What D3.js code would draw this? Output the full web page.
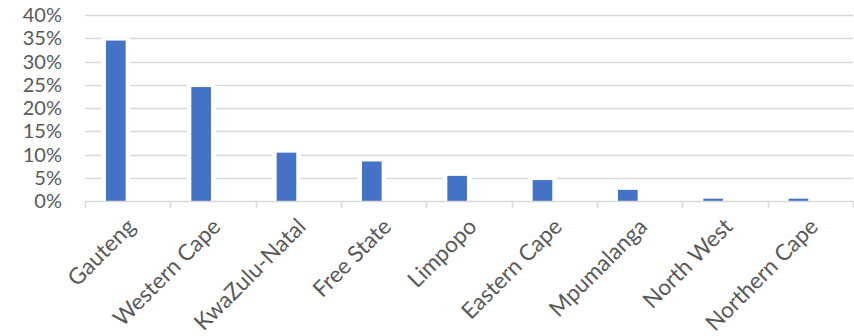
<!DOCTYPE html>
<html><head><meta charset="utf-8">
<script src="https://cdn.jsdelivr.net/npm/d3@7"></script>
<style>body{margin:0;background:#fff}svg{display:block}text{font-family:Lato,"Open Sans",sans-serif;fill:#595959}</style>
</head><body>
<svg id="c" width="854" height="336"></svg>
<script>
const categories = ["Gauteng","Western Cape","KwaZulu-Natal","Free State","Limpopo","Eastern Cape","Mpumalanga","North West","Northern Cape"];
const values = [0.345, 0.245, 0.104, 0.085, 0.054, 0.045, 0.024, 0.005, 0.005];
const yTicks = [0,0.05,0.10,0.15,0.20,0.25,0.30,0.35,0.40];

const svg = d3.select("#c");
const x = d3.scaleBand().domain(categories).range([85, 853]).padding(0);
const y = d3.scaleLinear().domain([0, 0.4]).range([201, 15]);
const bw = x.bandwidth();
const barOff = bw*0.246, barW = bw*0.23;

// gridlines
svg.append("g").selectAll("line").data(yTicks.filter(d=>d>0)).join("line")
  .attr("x1",85).attr("x2",853).attr("y1",d=>Math.round(y(d))+0.5).attr("y2",d=>Math.round(y(d))+0.5)
  .attr("stroke","#D9D9D9").attr("stroke-width",1.5);

// white halo behind bars (cuts gridlines like the reference)
svg.append("g").selectAll("rect").data(values).join("rect")
  .attr("x",(d,i)=>x(categories[i])+barOff-4.5).attr("width",barW+9)
  .attr("y",d=>y(d)-3).attr("height",d=>y(0)-y(d)+3).attr("fill","#fff");

// bars
svg.append("g").selectAll("rect").data(values).join("rect")
  .attr("x",(d,i)=>x(categories[i])+barOff).attr("width",barW)
  .attr("y",d=>y(d)).attr("height",d=>y(0)-y(d)).attr("fill","#4472C4");

// x axis line and ticks
svg.append("line").attr("x1",85).attr("x2",853).attr("y1",201.5).attr("y2",201.5).attr("stroke","#D9D9D9").attr("stroke-width",1.5);
const bounds = categories.map(c=>x(c)).concat([x(categories[categories.length-1])+bw]);
svg.append("g").selectAll("line").data(bounds).join("line")
  .attr("x1",d=>Math.round(d)+0.5).attr("x2",d=>Math.round(d)+0.5).attr("y1",201).attr("y2",208)
  .attr("stroke","#D9D9D9").attr("stroke-width",1.5);

// y labels
svg.append("g").selectAll("text").data(yTicks).join("text")
  .attr("x",62).attr("y",d=>y(d)).attr("dy","0.36em").attr("text-anchor","end")
  .attr("font-size",20).text(d=>d3.format(".0%")(d));

// x labels
svg.append("g").selectAll("text").data(categories).join("text")
  .attr("transform",c=>`translate(${x(c)+bw/2+9},${228}) rotate(-45)`)
  .attr("text-anchor","end").attr("font-size",22.5).text(c=>c);
</script>
</body></html>
